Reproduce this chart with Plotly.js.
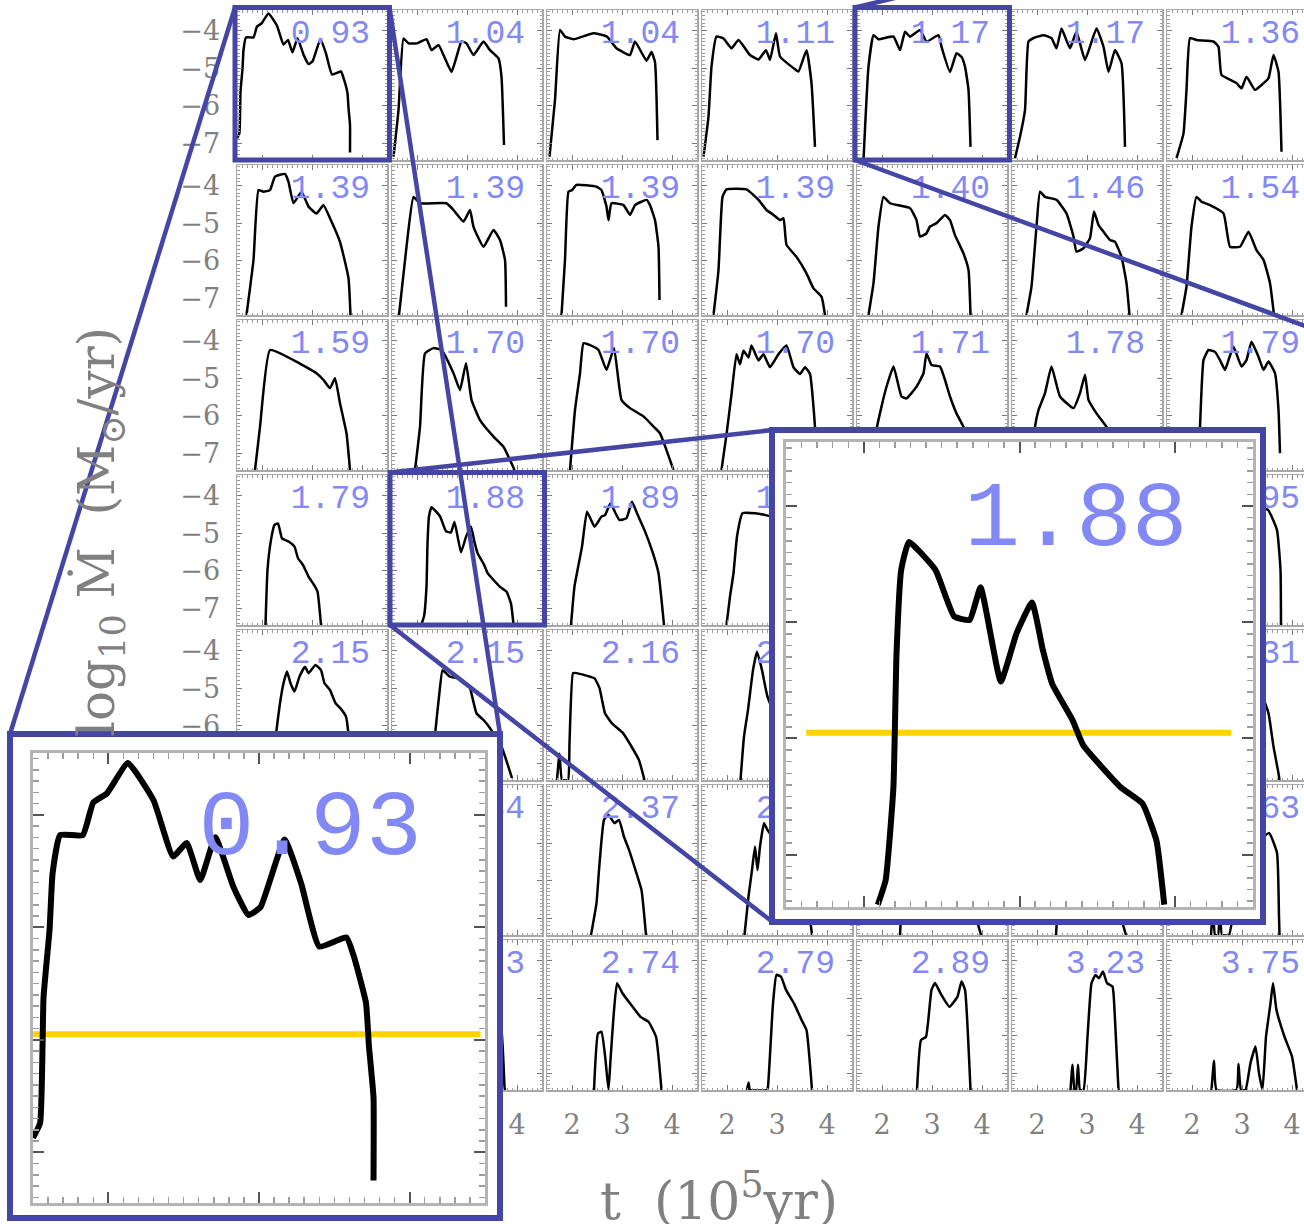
<!DOCTYPE html>
<html><head><meta charset="utf-8">
<script src="https://cdn.plot.ly/plotly-3.0.1.min.js"></script>
<style>html,body{margin:0;padding:0;overflow:hidden;background:#fff}</style>
</head><body><div id="chart"></div>
<script>
// ---------- panel labels (row by row) ----------
const labelsRow1 = [0.93,1.04,1.04,1.11,1.17,1.17,1.36];
const labelsRow2 = [1.39,1.39,1.39,1.39,1.40,1.46,1.54];
const labelsRow3 = [1.59,1.70,1.70,1.70,1.71,1.78,1.79];
const labelsRow4 = [1.79,1.88,1.89,1.90,1.92,1.94,1.95];
const labelsRow5 = [2.15,2.15,2.16,2.18,2.22,2.26,2.31];
const labelsRow6 = [2.32,2.34,2.37,2.41,2.48,2.55,2.63];
const labelsRow7 = [2.68,2.73,2.74,2.79,2.89,3.23,3.75];

// ---------- curves: t (1e5 yr) and log10 Mdot ----------
const t11=[1.50,1.547,1.57,1.61,1.63,1.68,1.83,1.90,1.99,2.13,2.30,2.43,2.52,2.61,2.71,2.83,2.93,3.01,3.17,3.28,3.40,3.58,3.63,3.71,3.73,3.76,3.76];
const m11=[-6.87,-6.74,-5.62,-5.02,-4.52,-4.18,-4.18,-3.89,-3.81,-3.54,-3.87,-4.37,-4.25,-4.58,-4.20,-4.64,-4.89,-4.82,-4.22,-4.61,-5.17,-5.09,-5.26,-5.67,-6.06,-6.51,-7.25];
const t12=[1.53,1.63,1.73,1.83,2.00,2.19,2.29,2.43,2.53,2.69,2.79,2.89,2.99,3.13,3.33,3.46,3.63,3.69,3.74];
const m12=[-7.36,-6.12,-4.21,-4.34,-4.34,-4.23,-4.52,-4.38,-4.65,-5.10,-4.70,-4.29,-4.34,-4.65,-4.29,-4.52,-4.74,-5.23,-7.05];
const t13=[1.55,1.66,1.76,1.86,2.03,2.43,2.70,2.89,3.16,3.26,3.49,3.59,3.66,3.71];
const m13=[-7.36,-5.85,-3.98,-4.16,-4.23,-4.07,-4.16,-4.47,-4.65,-4.29,-4.80,-4.57,-4.84,-6.92];
const t14=[1.53,1.63,1.69,1.79,1.93,2.09,2.23,2.46,2.63,2.78,2.86,2.98,3.06,3.33,3.43,3.59,3.69,3.76];
const m14=[-7.36,-6.29,-4.96,-4.16,-4.21,-4.47,-4.25,-4.65,-4.77,-4.52,-4.78,-4.07,-4.69,-5.00,-5.09,-4.52,-5.40,-7.10];
const t15=[1.63,1.73,1.83,1.93,2.23,2.36,2.46,2.56,2.76,2.89,3.13,3.19,3.36,3.49,3.59,3.66,3.73,3.77];
const m15=[-7.45,-4.96,-4.12,-4.23,-4.16,-4.52,-4.03,-4.16,-3.98,-4.29,-4.12,-4.43,-5.10,-4.60,-4.70,-4.96,-5.58,-7.10];
const t16=[1.56,1.66,1.76,1.83,1.93,2.13,2.29,2.39,2.49,2.56,2.66,2.79,2.96,3.19,3.33,3.43,3.56,3.69,3.76];
const m16=[-7.40,-6.83,-6.12,-4.29,-4.20,-4.12,-4.20,-4.47,-3.94,-4.16,-4.47,-4.03,-4.78,-3.94,-4.43,-5.10,-4.52,-4.87,-7.10];
const t17=[1.69,1.83,1.89,1.96,2.09,2.43,2.53,2.59,2.89,2.99,3.09,3.26,3.39,3.53,3.63,3.73,3.79];
const m17=[-7.40,-6.74,-5.58,-4.20,-4.25,-4.29,-4.43,-5.18,-5.40,-5.54,-5.23,-5.58,-5.45,-5.27,-4.65,-5.10,-7.23];

const t21=[1.69,1.83,1.93,2.03,2.16,2.26,2.46,2.53,2.63,2.79,2.93,3.09,3.23,3.36,3.56,3.73,3.77];
const m21=[-7.45,-5.98,-4.12,-4.16,-4.12,-3.76,-3.69,-3.90,-4.47,-4.16,-4.56,-4.74,-4.52,-4.87,-5.50,-6.47,-7.45];
const t22=[1.64,1.79,1.93,2.06,2.59,2.73,2.93,3.06,3.13,3.33,3.53,3.66,3.76,3.78];
const m22=[-7.45,-5.63,-4.30,-4.47,-4.47,-4.65,-4.96,-4.65,-5.10,-5.63,-5.18,-5.45,-5.98,-7.23];
const t23=[1.79,1.86,1.93,2.00,2.09,2.49,2.59,2.69,2.73,2.79,3.03,3.16,3.26,3.49,3.56,3.66,3.73,3.75];
const m23=[-7.45,-5.98,-4.16,-4.12,-3.98,-4.03,-4.12,-4.56,-4.92,-4.47,-4.52,-4.78,-4.52,-4.38,-4.52,-4.92,-5.63,-7.05];
const t24=[1.73,1.83,1.91,1.99,2.39,2.63,2.79,2.93,3.06,3.13,3.19,3.39,3.59,3.73,3.89,3.96];
const m24=[-7.45,-6.25,-4.30,-4.10,-4.10,-4.38,-4.65,-4.78,-4.92,-4.87,-5.58,-5.90,-6.34,-6.74,-6.96,-7.45];
const t25=[1.73,1.83,1.93,2.03,2.16,2.56,2.69,2.76,2.89,2.96,3.09,3.26,3.36,3.46,3.63,3.73,3.77];
const m25=[-7.45,-6.60,-5.09,-4.30,-4.47,-4.60,-4.92,-5.36,-5.27,-5.09,-5.00,-4.78,-4.92,-5.32,-5.81,-6.25,-7.45];
const t26=[1.79,1.89,1.99,2.06,2.16,2.39,2.59,2.73,2.79,2.93,3.06,3.14,3.23,3.33,3.46,3.56,3.69,3.79,3.85];
const m26=[-7.45,-6.69,-5.09,-4.16,-4.30,-4.38,-4.74,-5.36,-5.76,-5.67,-5.40,-4.69,-5.05,-5.23,-5.45,-5.50,-5.90,-6.60,-7.45];
const t27=[1.79,1.89,1.99,2.09,2.19,2.36,2.63,2.76,2.96,3.13,3.29,3.43,3.56,3.64];
const m27=[-7.45,-6.69,-5.09,-4.30,-4.43,-4.52,-4.74,-5.63,-5.63,-5.23,-5.72,-5.98,-6.60,-7.45];

const t31=[1.86,1.96,2.16,2.63,3.09,3.23,3.36,3.46,3.56,3.69,3.76];
const m31=[-7.45,-6.30,-4.25,-4.52,-4.87,-5.05,-5.27,-5.00,-5.67,-6.47,-7.45];
const t32=[1.96,2.06,2.16,2.33,2.49,2.73,2.86,2.98,3.09,3.26,3.53,3.73,3.89,3.95];
const m32=[-7.45,-6.30,-4.34,-4.20,-4.25,-4.87,-5.32,-4.60,-5.58,-6.12,-6.56,-6.83,-7.27,-7.45];
const t33=[1.96,2.06,2.16,2.23,2.36,2.53,2.69,2.84,2.99,3.16,3.43,3.63,3.76,3.89,4.03];
const m33=[-7.45,-5.85,-4.87,-4.07,-4.12,-4.25,-4.78,-4.20,-5.58,-5.80,-6.02,-6.29,-6.47,-6.92,-7.45];
const t34=[1.89,1.99,2.09,2.19,2.26,2.33,2.43,2.49,2.63,2.73,2.86,3.03,3.19,3.33,3.46,3.56,3.66,3.76,3.79];
const m34=[-7.45,-6.50,-5.43,-4.36,-4.63,-4.27,-4.45,-4.13,-4.53,-4.36,-4.71,-4.36,-4.13,-4.71,-4.89,-4.71,-4.89,-6.31,-7.45];
const t35=[1.85,1.89,1.99,2.09,2.23,2.39,2.49,2.69,2.83,2.89,2.99,3.16,3.26,3.36,3.49,3.63,3.75,3.85];
const m35=[-7.45,-6.38,-5.76,-5.23,-4.69,-5.49,-5.54,-5.23,-4.87,-4.34,-4.65,-4.69,-5.05,-5.49,-5.94,-6.30,-6.80,-7.45];
const t36=[1.90,1.96,2.03,2.16,2.29,2.46,2.73,2.86,2.96,3.03,3.19,3.39,3.55,3.65];
const m36=[-7.45,-6.30,-5.85,-5.40,-4.69,-5.49,-5.80,-5.40,-4.91,-5.58,-5.94,-6.30,-6.90,-7.45];
const t37=[2.12,2.16,2.23,2.33,2.46,2.56,2.66,2.73,2.83,2.99,3.09,3.19,3.33,3.43,3.53,3.66,3.73,3.76];
const m37=[-7.45,-6.30,-4.52,-4.25,-4.30,-4.52,-4.78,-4.52,-4.16,-4.69,-4.52,-4.03,-4.43,-4.78,-4.56,-4.87,-5.85,-7.00];

const t41=[2.07,2.11,2.18,2.25,2.32,2.40,2.54,2.65,2.72,2.82,2.93,3.04,3.11,3.18];
const m41=[-7.45,-5.98,-5.18,-4.78,-4.74,-5.14,-5.23,-5.36,-5.67,-5.85,-6.16,-6.38,-6.56,-7.45];
const t42=[2.09,2.14,2.19,2.21,2.24,2.29,2.46,2.58,2.68,2.75,2.88,2.98,3.08,3.15,3.21,3.34,3.41,3.65,3.79,3.88,3.93];
const m42=[-7.43,-7.22,-6.42,-5.27,-4.55,-4.31,-4.55,-4.95,-4.98,-4.70,-5.51,-5.10,-4.83,-5.24,-5.53,-5.84,-6.06,-6.42,-6.56,-6.88,-7.43];
const t43=[1.98,2.05,2.20,2.30,2.45,2.59,2.66,2.77,2.87,2.95,3.09,3.20,3.30,3.45,3.62,3.73,3.84];
const m43=[-7.45,-6.42,-5.36,-4.43,-4.83,-4.56,-4.52,-4.20,-4.47,-4.65,-4.60,-4.16,-4.47,-4.92,-5.54,-6.07,-7.45];
const t44=[1.99,2.06,2.13,2.20,2.31,2.56,2.77,3.00,3.30,3.60,3.75,3.80];
const m44=[-7.45,-6.69,-6.07,-5.09,-4.47,-4.47,-4.52,-4.60,-4.90,-5.30,-6.00,-7.45];
const t45=[2.00,2.05,2.12,2.30,2.60,2.90,3.20,3.50,3.70,3.80];
const m45=[-7.45,-6.50,-4.60,-4.40,-4.70,-4.50,-4.90,-5.60,-6.50,-7.45];
const t46=[1.95,2.02,2.10,2.40,2.70,3.00,3.30,3.60,3.75];
const m46=[-7.45,-5.50,-4.30,-4.45,-4.90,-4.60,-5.30,-6.20,-7.45];
const t47=[1.90,1.97,2.05,2.50,2.90,3.30,3.52,3.70,3.77,3.78];
const m47=[-7.45,-6.00,-4.35,-4.40,-4.50,-4.30,-4.38,-4.92,-5.98,-7.45];

const t51=[2.20,2.29,2.36,2.43,2.50,2.57,2.65,2.75,2.86,2.93,3.07,3.18,3.25,3.36,3.47,3.57,3.68,3.72,3.78];
const m51=[-7.45,-6.12,-5.40,-4.87,-4.56,-4.87,-5.09,-4.69,-4.43,-4.60,-4.38,-4.52,-4.87,-5.05,-5.40,-5.54,-5.76,-6.12,-7.45];
const t52=[2.30,2.37,2.44,2.51,2.58,2.65,2.83,2.94,3.05,3.12,3.19,3.33,3.44,3.69,3.90];
const m52=[-7.45,-6.12,-5.23,-4.52,-4.60,-4.69,-4.74,-4.87,-4.96,-5.32,-5.67,-5.85,-6.03,-6.56,-7.40];
const t53=[1.70,1.75,1.80,1.92,1.95,2.02,2.09,2.45,2.55,2.66,2.80,3.02,3.23,3.34,3.45];
const m53=[-7.45,-6.75,-7.45,-7.45,-6.47,-4.60,-4.60,-4.74,-5.00,-5.67,-5.94,-6.20,-6.65,-6.92,-7.45];
const t54=[2.27,2.34,2.42,2.52,2.60,2.70,2.81,3.00,3.30,3.50];
const m54=[-7.45,-6.29,-5.58,-4.52,-4.03,-4.52,-5.23,-5.80,-6.50,-7.45];
const t55=[2.20,2.30,2.40,2.70,3.00,3.30,3.60,3.70];
const m55=[-7.45,-5.50,-4.50,-4.60,-5.20,-5.90,-6.80,-7.45];
const t56=[2.25,2.35,2.45,2.80,3.10,3.40,3.60];
const m56=[-7.45,-5.20,-4.40,-4.50,-5.00,-5.80,-7.45];
const t57=[2.30,2.40,2.50,3.00,3.40,3.53,3.63,3.73,3.75];
const m57=[-7.45,-5.00,-4.40,-4.60,-5.20,-5.67,-6.56,-7.27,-7.45];

const t61=[2.30,2.40,2.50,2.80,3.10,3.40,3.60];
const m61=[-7.45,-5.20,-4.50,-4.70,-5.30,-6.20,-7.45];
const t62=[2.35,2.45,2.55,2.80,3.10,3.40,3.55];
const m62=[-7.45,-5.00,-4.40,-4.80,-5.50,-6.50,-7.45];
const t63=[2.38,2.49,2.54,2.64,2.73,2.85,2.94,3.04,3.14,3.27,3.39,3.48];
const m63=[-7.45,-6.60,-5.72,-4.38,-4.25,-4.47,-4.38,-4.83,-5.18,-5.72,-6.25,-7.45];
const t64=[2.35,2.43,2.50,2.56,2.61,2.66,2.74,2.81,3.00,3.30,3.60,3.70];
const m64=[-7.45,-6.42,-5.72,-5.09,-5.72,-5.09,-4.47,-4.65,-5.00,-5.60,-6.50,-7.45];
const t65=[2.36,2.45,2.60,2.90,3.30,3.70,3.98];
const m65=[-7.45,-5.50,-4.60,-4.80,-5.40,-6.20,-7.45];
const t66=[2.38,2.50,2.65,3.00,3.40,3.78];
const m66=[-7.45,-5.20,-4.50,-4.90,-5.80,-7.45];
const t67=[2.38,2.42,2.46,2.52,2.56,2.60,2.74,2.90,3.10,3.30,3.54,3.70,3.74,3.75];
const m67=[-7.45,-6.80,-7.45,-7.45,-6.70,-7.45,-7.45,-6.20,-5.30,-5.00,-4.73,-5.26,-6.97,-7.45];

const t71=[2.60,2.70,2.80,3.00,3.30,3.60,3.75];
const m71=[-7.45,-5.50,-4.60,-4.90,-5.60,-6.50,-7.45];
const t72=[2.70,2.80,2.90,3.10,3.40,3.67,3.75,3.76];
const m72=[-7.45,-5.20,-4.50,-4.80,-5.20,-5.67,-7.36,-7.45];
const t73=[2.44,2.52,2.59,2.67,2.73,2.77,2.83,2.90,3.01,3.16,3.37,3.53,3.68,3.79];
const m73=[-7.45,-5.94,-5.90,-6.65,-7.45,-6.65,-5.50,-4.60,-4.87,-5.14,-5.50,-5.63,-6.03,-7.45];
const t74=[2.40,2.43,2.46,2.80,2.82,2.92,2.99,3.08,3.18,3.34,3.49,3.59,3.70];
const m74=[-7.45,-7.25,-7.45,-7.45,-7.36,-5.14,-4.38,-4.43,-4.78,-5.14,-5.58,-5.85,-7.45];
const t75=[2.70,2.78,2.88,2.99,3.06,3.17,3.35,3.51,3.59,3.66,3.77];
const m75=[-7.45,-6.12,-6.03,-4.78,-4.60,-4.87,-5.23,-4.96,-4.56,-4.78,-7.45];
const t76=[2.67,2.71,2.75,2.78,2.82,2.86,2.93,3.01,3.09,3.17,3.24,3.32,3.40,3.51,3.56,3.63];
const m76=[-7.45,-6.78,-7.45,-7.45,-6.78,-7.45,-7.45,-6.03,-4.60,-4.38,-4.47,-4.29,-4.60,-4.69,-5.58,-7.45];
const t77=[2.39,2.44,2.49,2.89,2.93,2.98,3.07,3.17,3.27,3.34,3.41,3.48,3.57,3.62,3.69,3.85,4.00,4.10];
const m77=[-7.45,-6.67,-7.45,-7.45,-6.76,-7.45,-7.45,-6.73,-6.29,-7.00,-7.45,-6.03,-5.14,-4.60,-5.32,-6.03,-6.56,-7.45];

// threshold line shown in the two magnified panels
const thresholdLogMdot = -5.95;
const thresholdTLeft = [1.47, 4.47];
const thresholdTRight = [1.63, 4.36];

// ---------- assemble ----------
const labels = [labelsRow1,labelsRow2,labelsRow3,labelsRow4,labelsRow5,labelsRow6,labelsRow7];
const T = [[t11,t12,t13,t14,t15,t16,t17],[t21,t22,t23,t24,t25,t26,t27],[t31,t32,t33,t34,t35,t36,t37],
           [t41,t42,t43,t44,t45,t46,t47],[t51,t52,t53,t54,t55,t56,t57],[t61,t62,t63,t64,t65,t66,t67],
           [t71,t72,t73,t74,t75,t76,t77]];
const M = [[m11,m12,m13,m14,m15,m16,m17],[m21,m22,m23,m24,m25,m26,m27],[m31,m32,m33,m34,m35,m36,m37],
           [m41,m42,m43,m44,m45,m46,m47],[m51,m52,m53,m54,m55,m56,m57],[m61,m62,m63,m64,m65,m66,m67],
           [m71,m72,m73,m74,m75,m76,m77]];

const W = 1330, H = 1224;
const COL0 = 237, ROW0 = 10, PITCH = 155, SIZE = 150;
const XR = [1.5, 4.5], YR = [-7.45, -3.45];
const fx = p => p / W, fy = p => 1 - p / H;
const BLUE = '#4545a6';
const LABEL_BLUE = '#8289f4';

const data = [];
const layout = {
  width: W, height: H, margin: {l:0, r:0, t:0, b:0},
  paper_bgcolor: '#fff', plot_bgcolor: '#fff', showlegend: false,
  shapes: [], annotations: []
};

function axName(k, a) { return k === 1 ? a : a + k; }
function axKey(k, a) { return k === 1 ? a + 'axis' : a + 'axis' + k; }

function frameAxis(kind, domain, anchor, showLabels, big) {
  return {
    domain, anchor, range: kind === 'x' ? XR : YR, autorange: false,
    showgrid: false, zeroline: false, showline: true, mirror: 'ticks',
    linecolor: big ? '#b4b4b4' : '#a8a8a8', linewidth: big ? 3 : 1.5,
    ticks: 'inside', ticklen: big ? 11 : 5, tickwidth: big ? 2 : 1, tickcolor: big ? '#555' : '#7a7a7a',
    tick0: 0, dtick: 1,
    minor: {ticks: 'inside', ticklen: big ? 6 : 2.5, tickwidth: big ? 1.5 : 1, tickcolor: '#9c9c9c', dtick: 0.1, showgrid: false},
    showticklabels: showLabels,
    tickfont: {family: 'DejaVu Serif', size: 27, color: '#808080'},
    ticklabelstandoff: kind === 'x' ? 10 : 10,
    fixedrange: true
  };
}

for (let r = 0; r < 7; r++) {
  for (let c = 0; c < 7; c++) {
    const k = r * 7 + c + 1;
    const left = COL0 + PITCH * c, top = ROW0 + PITCH * r;
    layout[axKey(k,'x')] = frameAxis('x', [fx(left), fx(left + SIZE)], axName(k,'y'), r === 6, false);
    layout[axKey(k,'y')] = frameAxis('y', [fy(top + SIZE), fy(top)], axName(k,'x'), c === 0, false);
    data.push({type:'scatter', mode:'lines', x: T[r][c], y: M[r][c], xaxis: axName(k,'x'), yaxis: axName(k,'y'),
      line: {color:'#000', width: 2.5, shape:'spline', smoothing:0.4}, hoverinfo:'skip'});
    data.push({type:'scatter', mode:'text', x:[XR[1] - 0.34], y:[YR[1] - 0.67], text:[labels[r][c].toFixed(2)],
      textposition:'middle left', xaxis: axName(k,'x'), yaxis: axName(k,'y'),
      textfont:{family:'Liberation Mono', size:33, color: LABEL_BLUE}, hoverinfo:'skip'});
  }
}

// magnified panels: cover (white backing) + inset
function addInset(kCover, kInset, outer, inner, src, label, thrT) {
  layout[axKey(kCover,'x')] = {domain:[fx(outer[0]), fx(outer[1])], anchor: axName(kCover,'y'), range:[0,1],
    showline:false, showgrid:false, zeroline:false, ticks:'', showticklabels:false, fixedrange:true};
  layout[axKey(kCover,'y')] = {domain:[fy(outer[3]), fy(outer[2])], anchor: axName(kCover,'x'), range:[0,1],
    showline:false, showgrid:false, zeroline:false, ticks:'', showticklabels:false, fixedrange:true};
  data.push({type:'scatter', mode:'lines', x:[null], y:[null], xaxis: axName(kCover,'x'), yaxis: axName(kCover,'y'), hoverinfo:'skip'});
  layout[axKey(kInset,'x')] = frameAxis('x', [fx(inner[0]), fx(inner[1])], axName(kInset,'y'), false, true);
  layout[axKey(kInset,'y')] = frameAxis('y', [fy(inner[3]), fy(inner[2])], axName(kInset,'x'), false, true);
  data.push({type:'scatter', mode:'lines', x: thrT, y:[thresholdLogMdot, thresholdLogMdot], cliponaxis:false,
    xaxis: axName(kInset,'x'), yaxis: axName(kInset,'y'), line:{color:'#ffd200', width:6}, hoverinfo:'skip'});
  data.push({type:'scatter', mode:'lines', x: src[0], y: src[1], xaxis: axName(kInset,'x'), yaxis: axName(kInset,'y'),
    line:{color:'#000', width:6, shape:'spline', smoothing:0.4}, hoverinfo:'skip'});
  data.push({type:'scatter', mode:'text', x:[XR[1] - 0.42], y:[YR[1] - 0.69], text:[label.toFixed(2)],
    textposition:'middle left', xaxis: axName(kInset,'x'), yaxis: axName(kInset,'y'),
    textfont:{family:'Liberation Mono', size:93, color: LABEL_BLUE}, hoverinfo:'skip'});
  layout.shapes.push({type:'rect', xref:'paper', yref:'paper', layer:'above',
    x0: fx(outer[0]+3), x1: fx(outer[1]-3), y0: fy(outer[2]+3), y1: fy(outer[3]-3),
    line:{color: BLUE, width:6}});
}
addInset(50, 51, [7, 503, 731, 1221], [33, 485, 753, 1203], [T[0][0], M[0][0]], labels[0][0], thresholdTLeft);
addInset(52, 53, [769, 1266, 427, 925], [786, 1253, 442, 907], [T[3][1], M[3][1]], labels[3][1], thresholdTRight);

// highlight boxes around the magnified panels
function panelBox(r, c) {
  const left = COL0 + PITCH * c, top = ROW0 + PITCH * r;
  return [left - 2, left + SIZE + 2.5, top - 2.5, top + SIZE];
}
[[0,0],[3,1],[0,4]].forEach(([r,c]) => {
  const b = panelBox(r, c);
  layout.shapes.push({type:'rect', xref:'paper', yref:'paper', layer:'above',
    x0: fx(b[0]), x1: fx(b[1]), y0: fy(b[2]), y1: fy(b[3]), line:{color: BLUE, width:5}});
});
function link(x0, y0, x1, y1) {
  layout.shapes.push({type:'line', xref:'paper', yref:'paper', layer:'above',
    x0: fx(x0), y0: fy(y0), x1: fx(x1), y1: fy(y1), line:{color: BLUE, width:4.5}});
}
const b1 = panelBox(0,0), b2 = panelBox(3,1), b3 = panelBox(0,4);
link(b1[0], b1[2], 10, 734);
link(b1[1], b1[2], 500, 734);
link(b2[0], b2[2], 772, 430);
link(b2[0], b2[3], 772, 921.5);
link(b3[0], b3[2], b3[0] + 60, b3[2] - 14.3);
link(b3[0], b3[3], b3[0] + 480, b3[3] + 177);

// axis titles
layout.annotations.push({xref:'paper', yref:'paper', x: fx(100), y: fy(532), textangle:-90, showarrow:false,
  xanchor:'center', yanchor:'middle',
  text:'log<sub>10</sub> Ṁ\u00a0\u00a0(M<sub>⊙</sub>/yr)', font:{family:'DejaVu Serif', size:50, color:'#808080'}});
layout.annotations.push({xref:'paper', yref:'paper', x: fx(719), y: fy(1197), showarrow:false,
  xanchor:'center', yanchor:'middle',
  text:'t\u00a0 (10<sup>5</sup>yr)', font:{family:'DejaVu Serif', size:52, color:'#808080'}});

Plotly.newPlot('chart', data, layout, {staticPlot:true, displayModeBar:false});
</script>
</body></html>
